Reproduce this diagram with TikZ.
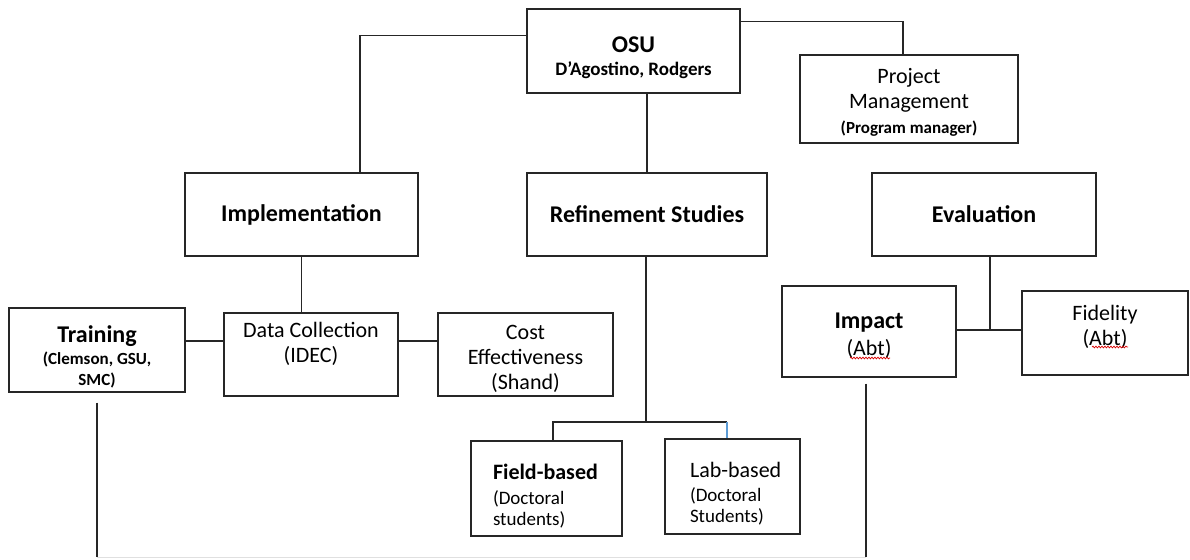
\documentclass[tikz,border=0pt]{standalone}
\usepackage{fontspec}
\setmainfont{Carlito}
\usetikzlibrary{positioning,calc,decorations.pathmorphing}
\definecolor{linkblue}{RGB}{91,155,213}
\newcommand{\unithead}{\fontsize{24}{27}\selectfont\bfseries}
\newcommand{\unittext}{\fontsize{22}{25}\selectfont}
\newcommand{\unitnote}{\fontsize{17}{21}\selectfont\bfseries}
\newcommand{\unitsub}{\fontsize{19}{21}\selectfont}
\newcommand{\lift}[1]{\rule{0pt}{#1}}

\begin{document}
\begin{tikzpicture}[x=1pt,y=-1pt,
unit/.style={rectangle, draw=black!85, line width=1.2pt, inner sep=0pt, font=\unittext},
leftunit/.style={unit, align=left, inner ysep=0pt, font=\unitsub},
link/.style={draw=black!85, line width=1.2pt},
floorline/.style={draw=black!12, line width=1pt},
spell/.style={draw=red!85!black, line width=0.7pt, decorate, decoration={snake, amplitude=0.9pt, segment length=3pt}},
nodes = {align = center}
]
\useasboundingbox (0,0) rectangle (1190,559);

%Nodes
\node[unit, minimum width=213pt, minimum height=84pt]  (osu)    at (633.5,51)
                   {\lift{30pt}{\unithead OSU}\\[-2pt]{\fontsize{19}{22}\selectfont\bfseries D’Agostino, Rodgers}};
\node[unit, minimum width=218pt, minimum height=88pt]  (pm)     at (909,99)
                   {\lift{22pt}Project\\Management\\{\unitnote (Program manager)}};
\node[unit, minimum width=233pt, minimum height=83pt]  (impl)   at (301.5,214.5)
                   {\unithead Implementation};
\node[unit, minimum width=240pt, minimum height=83pt]  (refine) at (647,214.5)
                   {\unithead Refinement Studies};
\node[unit, minimum width=224pt, minimum height=83pt]  (eval)   at (984,214.5)
                   {\unithead Evaluation};
\node[unit, font=\unitnote, minimum width=176pt, minimum height=84pt]  (train)  at (97,350)
                   {\lift{30pt}{\unithead Training}\\[1pt](Clemson, GSU,\\SMC)};
\node[unit, minimum width=174pt, minimum height=83pt]  (datac)  at (311,354.5)
                   {Data Collection\\(IDEC)\\{}};
\node[unit, minimum width=175pt, minimum height=83pt]  (cost)   at (525.5,354.5)
                   {\lift{24pt}Cost\\Effectiveness\\(Shand)};
\node[unit, minimum width=174pt, minimum height=91pt]  (impact) at (869,331.5)
                   {\lift{24pt}{\unithead Impact}\\[2pt](Abt)};
\node[unit, minimum width=166pt, minimum height=84pt]  (fidel)  at (1105,333)
                   {Fidelity\\(Abt)\\[-10pt]{}};
\node[leftunit, text width=107pt, inner xsep=22pt, minimum height=95pt] (field) at (546.5,488.5)
                   {\lift{30pt}{\fontsize{22}{25}\selectfont\bfseries\mbox{Field-based}}\\[4pt](Doctoral\\students)};
\node[leftunit, text width=85pt, inner xsep=25pt, minimum height=95pt]  (lab)   at (732.5,486.5)
                   {\lift{30pt}{\fontsize{22}{25}\selectfont\mbox{Lab-based}}\\[3pt](Doctoral\\Students)};

%Points
\coordinate (rowdc)     at (0,341);
\coordinate (fork)      at (646,422);
\coordinate (evalmid)   at (990,330);
\coordinate (floor)     at (0,557);
\coordinate (fieldtop)  at ([xshift=6.5pt]field.north);
\coordinate (labtop)    at ([xshift=-5.5pt]lab.north);
\coordinate (impactout) at ([xshift=-3pt,yshift=-6pt]impact.south);

%Lines
\draw[link] ([yshift=-27pt]osu.north west) -| ([xshift=58.5pt]impl.north);
\draw[link] ([yshift=-13pt]osu.north east) -| ([xshift=-6pt]pm.north);
\draw[link] (osu.south -| refine.north) -- (refine.north);
\draw[link] (impl.south) -- (impl.south |- datac.north);
\draw[link] (train.east |- rowdc) -- (datac.west |- rowdc);
\draw[link] (datac.east |- rowdc) -- (cost.west |- rowdc);
\draw[link] (refine.south -| fork) -- (fork);
\draw[link] (fieldtop) |- (fork) -- (fork -| labtop);
\draw[link, draw=linkblue] (fork -| labtop) -- (labtop);
\draw[link] ([xshift=6pt]eval.south) -- (evalmid);
\draw[link] (impact.east |- evalmid) -- (fidel.west |- evalmid);
\draw[link] ([yshift=-10pt]train.south) -- (train.south |- floor);
\draw[link] (impactout) -- (impactout |- floor);
\draw[floorline] (train.south |- floor) -- (impactout |- floor);

%Spelling marks
\draw[spell] ([xshift=-19pt,yshift=-26.5pt]impact.center) -- ++(40,0);
\draw[spell] ([xshift=-13pt,yshift=-14pt]fidel.center) -- ++(36,0);

\end{tikzpicture}
\end{document}
